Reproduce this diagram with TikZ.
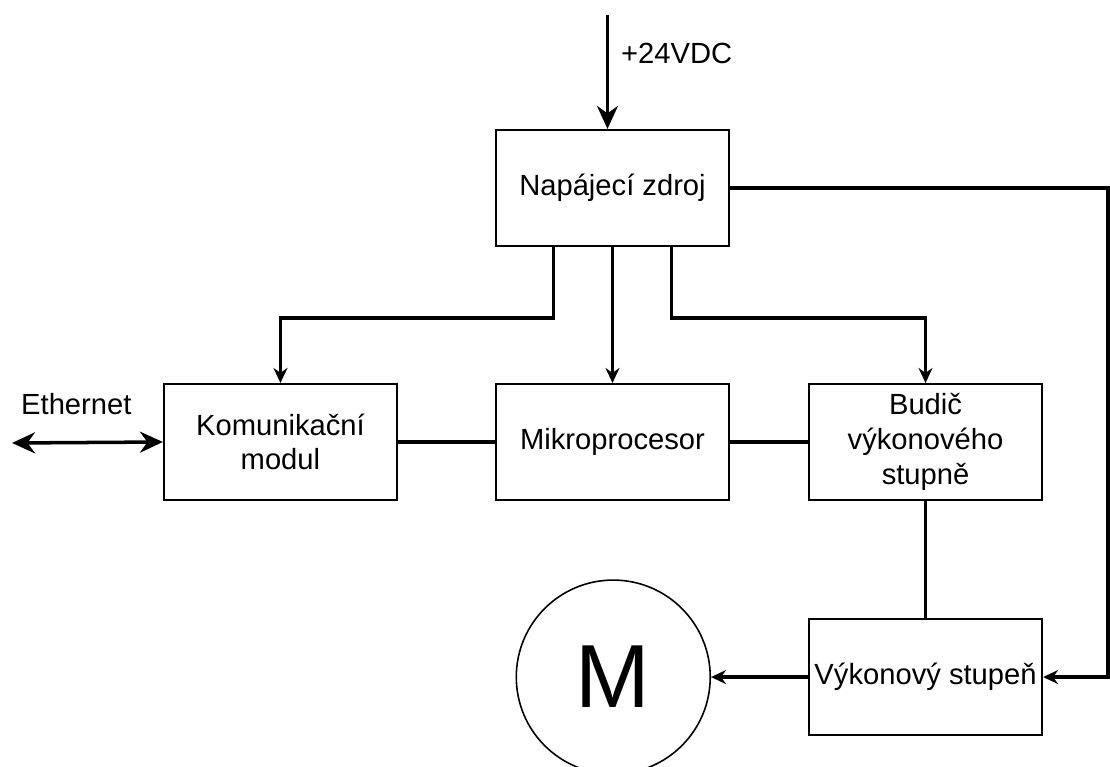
\documentclass[tikz,border=0pt]{standalone}
\usepackage{fontspec}
\setmainfont{Liberation Sans}
\usetikzlibrary{positioning,arrows.meta,calc}

\begin{document}
\begin{tikzpicture}[x=0.02cm, y=-0.02cm, font=\fontsize{16.6}{19.8}\selectfont,
  blok/.style={draw, line width=1.2pt, minimum width=4.66cm, minimum height=2.32cm, align=center, inner sep=2pt},
  motor/.style={draw, circle, line width=0.9pt, minimum size=3.88cm, inner sep=0pt, font=\fontsize{51}{60}\selectfont},
  spoj/.style={line width=2pt},
  arr/.style={spoj, -{Stealth[length=3mm, width=2.8mm, inset=1mm]}},
  velka/.style={spoj, -{Stealth[length=4.6mm, width=4.2mm, inset=1.5mm]}},
  dvoj/.style={spoj, {Stealth[length=4.6mm, width=4.2mm, inset=1.5mm]}-{Stealth[length=4.6mm, width=4.2mm, inset=1.5mm]}}]
\useasboundingbox (0,0) rectangle (1110,767);
\node[blok] (mcu) at (612.5,442) {Mikroprocesor};
\node[blok, left=1.94cm of mcu] (komunikace) {Komunikační\\ modul};
\node[blok, right=1.56cm of mcu] (budic) {Budič\\ výkonového\\ stupně};
\node[blok, above=2.72cm of mcu] (zdroj) {Napájecí zdroj};
\node[blok, below=2.34cm of budic] (vykon) {Výkonový stupeň};
\node[motor, left=1.94cm of vykon] (m) {M};
\node[anchor=base west] (vdc) at (615,64) {+24VDC};
\node[anchor=base west] (eth) at (15,414) {Ethernet};
\coordinate (napajeni) at (607.5,15);
\coordinate (ethkonec) at (12,443);
\coordinate (odb) at (0,318);
\coordinate (pravy) at (1108,191);
\coordinate (z1) at ($(zdroj.south west)!0.25!(zdroj.south east)$);
\coordinate (z3) at ($(zdroj.south west)!0.75!(zdroj.south east)$);
% napajeni
\draw[velka] (napajeni) -- (napajeni |- zdroj.north);
\draw[arr] (z1) -- (z1 |- odb) -| (komunikace.north);
\draw[arr] (zdroj.south) -- (mcu.north);
\draw[arr] (z3) -- (z3 |- odb) -| (budic.north);
\draw[arr] (zdroj.east) -- (zdroj.east -| pravy) |- (vykon.east);
% signaly
\draw[dvoj] (ethkonec) -- (komunikace.west);
\draw[spoj] (komunikace.east) -- (mcu.west);
\draw[spoj] (mcu.east) -- (budic.west);
\draw[spoj] (budic.south) -- (vykon.north);
\draw[arr] (vykon.west) -- (m.east);
\end{tikzpicture}
\end{document}
